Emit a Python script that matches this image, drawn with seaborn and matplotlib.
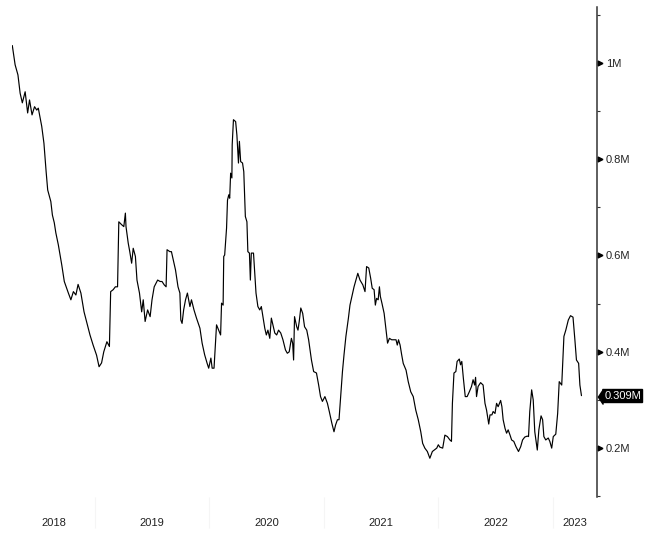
import seaborn as sns
import matplotlib.pyplot as plt
import matplotlib.transforms as mtransforms
import pandas as pd

# series (values in millions)
dates_2018 = ["2018-04-12", "2018-04-21", "2018-04-30", "2018-05-07", "2018-05-14", "2018-05-23",
              "2018-05-31", "2018-06-06", "2018-06-14", "2018-06-22", "2018-06-29", "2018-07-04",
              "2018-07-15", "2018-07-22", "2018-07-29", "2018-08-03", "2018-08-13", "2018-08-18",
              "2018-08-24", "2018-08-29", "2018-09-06", "2018-09-17", "2018-09-25", "2018-10-08",
              "2018-10-16", "2018-10-24", "2018-11-01", "2018-11-08", "2018-11-17", "2018-11-27",
              "2018-12-05", "2018-12-16", "2018-12-26"]
vals_2018 = [1.036, 0.996, 0.975, 0.937, 0.917, 0.940, 0.896, 0.923, 0.892, 0.909, 0.902, 0.906,
             0.868, 0.833, 0.774, 0.736, 0.712, 0.684, 0.668, 0.647, 0.622, 0.580, 0.546, 0.522,
             0.508, 0.525, 0.518, 0.540, 0.522, 0.483, 0.463, 0.435, 0.414]

dates_2019 = ["2019-01-06", "2019-01-14", "2019-01-22", "2019-01-29", "2019-02-08", "2019-02-16",
              "2019-02-20", "2019-02-28", "2019-03-07", "2019-03-14", "2019-03-18", "2019-03-27",
              "2019-04-03", "2019-04-08", "2019-04-10", "2019-04-17", "2019-04-22", "2019-04-28",
              "2019-05-03", "2019-05-10", "2019-05-15", "2019-05-23", "2019-05-30", "2019-06-04",
              "2019-06-10", "2019-06-18", "2019-06-26", "2019-07-02", "2019-07-09", "2019-07-20",
              "2019-07-28", "2019-08-03", "2019-08-10", "2019-08-16", "2019-08-19", "2019-08-28",
              "2019-09-02", "2019-09-10", "2019-09-15", "2019-09-23", "2019-09-29", "2019-10-02",
              "2019-10-06", "2019-10-11", "2019-10-17", "2019-10-23", "2019-10-31", "2019-11-05",
              "2019-11-13", "2019-11-21", "2019-12-02", "2019-12-09", "2019-12-17", "2019-12-25",
              "2019-12-30"]
vals_2019 = [0.393, 0.369, 0.377, 0.400, 0.421, 0.411, 0.525, 0.529, 0.535, 0.535, 0.670, 0.664,
             0.660, 0.688, 0.660, 0.626, 0.608, 0.584, 0.615, 0.598, 0.549, 0.522, 0.483, 0.508,
             0.463, 0.487, 0.473, 0.508, 0.535, 0.549, 0.546, 0.546, 0.539, 0.535, 0.612, 0.608,
             0.608, 0.584, 0.570, 0.535, 0.522, 0.466, 0.459, 0.487, 0.508, 0.522, 0.494, 0.508,
             0.487, 0.470, 0.449, 0.418, 0.394, 0.376, 0.366]

dates_2020 = ["2020-01-06", "2020-01-10", "2020-01-16", "2020-01-24", "2020-01-31", "2020-02-06",
              "2020-02-09", "2020-02-14", "2020-02-16", "2020-02-19", "2020-02-25", "2020-02-28",
              "2020-03-03", "2020-03-06", "2020-03-09", "2020-03-13", "2020-03-14", "2020-03-18",
              "2020-03-25", "2020-03-29", "2020-04-03", "2020-04-06", "2020-04-10", "2020-04-16",
              "2020-04-20", "2020-04-25", "2020-04-30", "2020-05-03", "2020-05-08", "2020-05-11",
              "2020-05-14", "2020-05-21", "2020-05-25", "2020-05-29", "2020-06-04", "2020-06-10",
              "2020-06-15", "2020-06-20", "2020-06-26", "2020-07-01", "2020-07-06", "2020-07-12",
              "2020-07-17", "2020-07-22", "2020-07-28", "2020-08-03", "2020-08-09", "2020-08-16",
              "2020-08-23", "2020-08-31", "2020-09-06", "2020-09-12", "2020-09-19", "2020-09-23",
              "2020-09-26", "2020-09-29", "2020-10-06", "2020-10-10", "2020-10-14", "2020-10-19",
              "2020-10-25", "2020-10-31", "2020-11-07", "2020-11-13", "2020-11-22", "2020-11-29",
              "2020-12-08", "2020-12-15", "2020-12-21", "2020-12-27"]
vals_2020 = [0.387, 0.366, 0.366, 0.456, 0.445, 0.435, 0.501, 0.497, 0.598, 0.601, 0.657, 0.715,
             0.726, 0.719, 0.771, 0.761, 0.830, 0.882, 0.878, 0.850, 0.792, 0.837, 0.795, 0.792,
             0.774, 0.681, 0.670, 0.608, 0.605, 0.549, 0.605, 0.605, 0.563, 0.522, 0.494, 0.487,
             0.494, 0.473, 0.449, 0.435, 0.445, 0.428, 0.470, 0.456, 0.439, 0.435, 0.445, 0.439,
             0.425, 0.404, 0.397, 0.400, 0.428, 0.418, 0.383, 0.473, 0.452, 0.445, 0.463, 0.491,
             0.480, 0.452, 0.445, 0.425, 0.383, 0.359, 0.356, 0.331, 0.307, 0.297]

dates_2021 = ["2021-01-04", "2021-01-12", "2021-01-18", "2021-01-26", "2021-02-02", "2021-02-07",
              "2021-02-13", "2021-02-18", "2021-02-23", "2021-03-01", "2021-03-06", "2021-03-12",
              "2021-03-20", "2021-03-25", "2021-04-01", "2021-04-07", "2021-04-13", "2021-04-19",
              "2021-04-26", "2021-05-05", "2021-05-12", "2021-05-17", "2021-05-24", "2021-05-30",
              "2021-06-04", "2021-06-10", "2021-06-14", "2021-06-18", "2021-06-23", "2021-06-27",
              "2021-06-30", "2021-07-05", "2021-07-12", "2021-07-17", "2021-07-23", "2021-07-29",
              "2021-08-05", "2021-08-12", "2021-08-19", "2021-08-23", "2021-08-27", "2021-09-01",
              "2021-09-06", "2021-09-11", "2021-09-20", "2021-09-27", "2021-10-05", "2021-10-13",
              "2021-10-21", "2021-10-29", "2021-11-06", "2021-11-12", "2021-11-19", "2021-11-27",
              "2021-12-05", "2021-12-13", "2021-12-19", "2021-12-27"]
vals_2021 = [0.307, 0.293, 0.276, 0.252, 0.234, 0.248, 0.259, 0.259, 0.304, 0.359, 0.394, 0.432,
             0.470, 0.497, 0.518, 0.535, 0.549, 0.563, 0.549, 0.539, 0.525, 0.577, 0.574, 0.553,
             0.532, 0.529, 0.497, 0.511, 0.508, 0.535, 0.515, 0.501, 0.480, 0.452, 0.418, 0.428,
             0.425, 0.425, 0.425, 0.414, 0.425, 0.414, 0.394, 0.376, 0.362, 0.338, 0.317, 0.307,
             0.279, 0.259, 0.234, 0.210, 0.200, 0.193, 0.179, 0.193, 0.196, 0.200]

dates_2022 = ["2022-01-01", "2022-01-06", "2022-01-15", "2022-01-22", "2022-01-30", "2022-02-07",
              "2022-02-12", "2022-02-15", "2022-02-20", "2022-02-26", "2022-03-02", "2022-03-09",
              "2022-03-13", "2022-03-17", "2022-03-22", "2022-03-28", "2022-04-03", "2022-04-10",
              "2022-04-17", "2022-04-22", "2022-04-27", "2022-04-30", "2022-05-03", "2022-05-08",
              "2022-05-16", "2022-05-24", "2022-05-30", "2022-06-04", "2022-06-11", "2022-06-15",
              "2022-06-21", "2022-06-25", "2022-07-01", "2022-07-06", "2022-07-11", "2022-07-19",
              "2022-07-23", "2022-07-27", "2022-08-02", "2022-08-07", "2022-08-12", "2022-08-18",
              "2022-08-23", "2022-08-30", "2022-09-06", "2022-09-14", "2022-09-21", "2022-09-27",
              "2022-10-04", "2022-10-12", "2022-10-16", "2022-10-20", "2022-10-26", "2022-10-31",
              "2022-11-05", "2022-11-13", "2022-11-18", "2022-11-25", "2022-11-30", "2022-12-04",
              "2022-12-10", "2022-12-18", "2022-12-23", "2022-12-29"]
vals_2022 = [0.207, 0.202, 0.200, 0.227, 0.224, 0.217, 0.214, 0.293, 0.356, 0.359, 0.380, 0.385,
             0.373, 0.380, 0.345, 0.307, 0.307, 0.317, 0.328, 0.342, 0.331, 0.347, 0.307, 0.328,
             0.336, 0.331, 0.293, 0.279, 0.250, 0.269, 0.269, 0.276, 0.272, 0.293, 0.286, 0.299,
             0.286, 0.259, 0.241, 0.231, 0.238, 0.227, 0.217, 0.214, 0.203, 0.193, 0.203, 0.217,
             0.223, 0.225, 0.224, 0.276, 0.321, 0.300, 0.234, 0.196, 0.238, 0.267, 0.259, 0.224,
             0.217, 0.221, 0.214, 0.200]

dates_2023 = ["2023-01-03", "2023-01-11", "2023-01-17", "2023-01-22", "2023-01-30", "2023-02-06",
              "2023-02-12", "2023-02-20", "2023-02-27", "2023-03-07", "2023-03-13", "2023-03-18",
              "2023-03-25", "2023-03-29", "2023-04-03"]
vals_2023 = [0.224, 0.229, 0.272, 0.338, 0.331, 0.432, 0.445, 0.466, 0.475, 0.472, 0.425, 0.383,
             0.376, 0.331, 0.309]

years = [2018, 2019, 2020, 2021, 2022, 2023]
y_major = [0.2, 0.4, 0.6, 0.8, 1.0]
y_minor = [0.1, 0.3, 0.5, 0.7, 0.9, 1.1]

df = pd.DataFrame({
    "date": pd.to_datetime(dates_2018 + dates_2019 + dates_2020 + dates_2021 + dates_2022 + dates_2023),
    "value": vals_2018 + vals_2019 + vals_2020 + vals_2021 + vals_2022 + vals_2023,
})
last_val = df["value"].iloc[-1]

sns.set_style("white")
plt.rcParams["font.family"] = ["Liberation Sans", "DejaVu Sans"]

fig = plt.figure(figsize=(6.48, 5.39), dpi=100)
ax = fig.add_axes([0.0185, 0.078, 0.9025, 0.909])

sns.lineplot(data=df, x="date", y="value", ax=ax, color="black", linewidth=0.85)

xmin, xmax = pd.Timestamp("2018-04-11"), pd.Timestamp("2023-05-22")
ax.set_xlim(xmin, xmax)
ax.set_ylim(0.0986, 1.116)

for s in ["top", "left", "bottom"]:
    ax.spines[s].set_visible(False)
ax.spines["right"].set_color("#333333")
ax.spines["right"].set_linewidth(1.1)

# y axis on the right
ax.yaxis.tick_right()
ax.set_yticks(y_major)
ax.set_yticklabels([f"{v:g}M" for v in y_major])
ax.set_yticks(y_minor, minor=True)
ax.tick_params(axis="y", which="major", length=0, pad=6.5, labelsize=8, labelcolor="#222222")
ax.tick_params(axis="y", which="minor", right=True, length=2.5, width=0.8, color="#333333")
tri = mtransforms.offset_copy(ax.get_yaxis_transform(), fig=fig, x=2.5, y=0, units="points")
ax.plot([1.0] * len(y_major), y_major, ls="none", marker=">", ms=3.5, color="black",
        transform=tri, clip_on=False)

# x axis: faint separators at year starts, labels centred on the visible part of each year
starts = [pd.Timestamp(f"{y}-01-01") for y in years[1:]]
ax.set_xticks(starts)
ax.set_xticklabels([""] * len(starts))
ax.tick_params(axis="x", which="major", bottom=True, length=22, width=0.8, color="#f5f5f5")
centres = []
for y in years:
    a = max(pd.Timestamp(f"{y}-01-01"), xmin)
    b = min(pd.Timestamp(f"{y + 1}-01-01"), xmax)
    centres.append(a + (b - a) / 2)
ax.set_xticks(centres, minor=True)
ax.set_xticklabels([str(y) for y in years], minor=True)
ax.tick_params(axis="x", which="minor", bottom=True, length=0, pad=15, labelsize=8,
               labelcolor="#222222")
ax.set_xlabel("")
ax.set_ylabel("")

# last value tag
tag = mtransforms.offset_copy(ax.get_yaxis_transform(), fig=fig, x=2.5, y=0, units="points")
ax.plot([1.0], [last_val], ls="none", marker=[(-1, 0), (1, -3), (1, 3)], ms=11,
        color="black", transform=tag, clip_on=False)
ax.annotate(f"{last_val:.3f}M", xy=(1.0, last_val), xycoords=ax.get_yaxis_transform(),
            xytext=(5.3, 0), textcoords="offset points", ha="left", va="center",
            color="white", fontsize=8, annotation_clip=False,
            bbox=dict(boxstyle="square,pad=0.12", fc="black", ec="black"))

fig.savefig("out.png", dpi=100)
